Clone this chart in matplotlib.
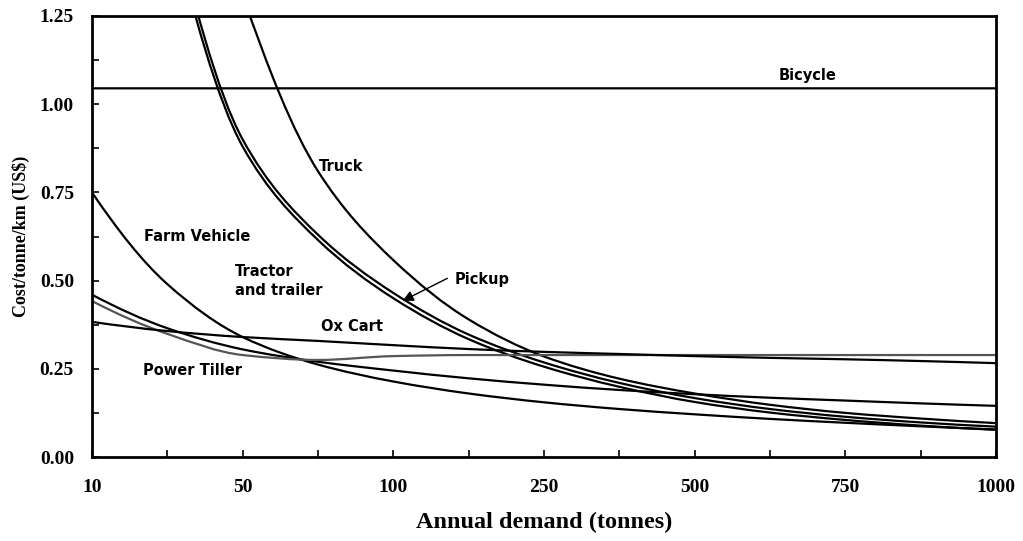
import numpy as np
import matplotlib.pyplot as plt
from matplotlib.path import Path
from matplotlib.patches import PathPatch

# categories on the x axis (evenly spaced, label on every second one)
demanda = [10, 25, 50, 75, 100, 175, 250, 375, 500, 625, 750, 875, 1000]
rotulos = ['10', '', '50', '', '100', '', '250', '', '500', '', '750', '', '1000']

# cost/tonne/km (US$); first points of the steep
# curves lie above the top of the axis
bicycle = [1.045] * 13
truck = [1.31, 0.81, 0.558, 0.39, 0.285, 0.222, 0.18, 0.148, 0.125, 0.109, 0.096]
pickup = [1.6, 0.90, 0.63, 0.465, 0.347, 0.268, 0.21, 0.167, 0.136, 0.114, 0.098, 0.086]
tractor = [1.56, 0.88, 0.615, 0.45, 0.334, 0.256, 0.199, 0.156, 0.126, 0.105, 0.089, 0.077]
farm = [0.75, 0.49, 0.34, 0.262, 0.214, 0.18, 0.155, 0.136, 0.121, 0.108, 0.097, 0.087, 0.078]
tiller = [0.46, 0.365, 0.305, 0.27, 0.245, 0.223, 0.205, 0.19, 0.178, 0.168, 0.16, 0.152, 0.145]
tiller2 = [0.442, 0.349, 0.289, 0.275, 0.286, 0.289, 0.289, 0.289, 0.289, 0.289, 0.289, 0.289, 0.289]
oxcart = [0.383, 0.357, 0.34, 0.329, 0.317, 0.306, 0.298, 0.292, 0.286, 0.281, 0.277, 0.272, 0.266]


def tangentes(ys):
    """Inclinacoes tipo Fritsch-Carlson (media harmonica)"""
    d = np.diff(ys)
    n = len(ys)
    m = np.zeros(n)
    for k in range(1, n - 1):
        if d[k - 1] * d[k] > 0:
            m[k] = 2 * d[k - 1] * d[k] / (d[k - 1] + d[k])
    for k, (a, b) in [(0, (d[0], d[1])), (n - 1, (d[-1], d[-2]))]:
        t = (3 * a - b) / 2.0
        if t * a <= 0:
            t = 0
        elif abs(t) > 3 * abs(a):
            t = 3 * a
        m[k] = t
    return m


def curvaSuave(xs, ys):
    """Path de Bezier passando pelos pontos"""
    ys = np.asarray(ys, float)
    m = tangentes(ys)
    verts = [(xs[0], ys[0])]
    codes = [Path.MOVETO]
    for k in range(len(ys) - 1):
        verts += [(xs[k] + 1 / 3.0, ys[k] + m[k] / 3.0),
                  (xs[k + 1] - 1 / 3.0, ys[k + 1] - m[k + 1] / 3.0),
                  (xs[k + 1], ys[k + 1])]
        codes += [Path.CURVE4] * 3
    return Path(verts, codes)


fig = plt.figure(figsize=(10.23, 5.41), dpi=100)
ax = fig.add_axes([92 / 1023, 84 / 541, 904 / 1023, 441 / 541])

series = [(bicycle, 'black'), (truck, 'black'), (pickup, 'black'), (tractor, 'black'),
          (farm, 'black'), (tiller, 'black'), (tiller2, '#555555'), (oxcart, 'black')]
for ys, cor in series:
    xs = np.arange(13 - len(ys), 13)
    ax.add_patch(PathPatch(curvaSuave(xs, ys), fill=False, edgecolor=cor, lw=1.6))

ax.set_xlim(0, 12)
ax.set_ylim(0, 1.25)

serif = 'Liberation Serif'
ax.set_xticks(range(13))
ax.set_xticklabels(rotulos, family=serif, fontweight='bold', fontsize=14)
yt = np.arange(0, 1.26, 0.125)
ax.set_yticks(yt)
ax.set_yticklabels(['%.2f' % v if i % 2 == 0 else '' for i, v in enumerate(yt)],
                   family=serif, fontweight='bold', fontsize=14)
ax.tick_params(axis='x', direction='in', length=5, width=1.2, pad=16)
ax.tick_params(axis='y', direction='in', length=5, width=1.2, pad=13)
for s in ax.spines.values():
    s.set_linewidth(2)

fig.text(544 / 1023, 1 - 522 / 541, 'Annual demand (tonnes)', family=serif,
         fontweight='bold', fontsize=17.5, ha='center', va='center')
fig.text(21 / 1023, 1 - 236 / 541, 'Cost/tonne/km (US$)', family=serif,
         fontweight='bold', fontsize=13, ha='center', va='center', rotation=90)

# rotulos das curvas
kw = dict(family='DejaVu Sans', fontweight='bold', fontsize=10.5, va='center')
ax.text(9.11, 1.08, 'Bicycle', **kw)
ax.text(3.01, 0.822, 'Truck', **kw)
ax.text(0.69, 0.624, 'Farm Vehicle', **kw)
ax.text(1.90, 0.499, 'Tractor\nand trailer', linespacing=1.4, **kw)
ax.text(4.82, 0.502, 'Pickup', **kw)
ax.text(3.04, 0.371, 'Ox Cart', **kw)
ax.text(0.68, 0.244, 'Power Tiller', **kw)
ax.annotate('', xy=(4.09, 0.439), xytext=(4.75, 0.51),
            arrowprops=dict(arrowstyle='-|>', color='black', lw=1, mutation_scale=16))

plt.savefig('out.png', dpi=100)
